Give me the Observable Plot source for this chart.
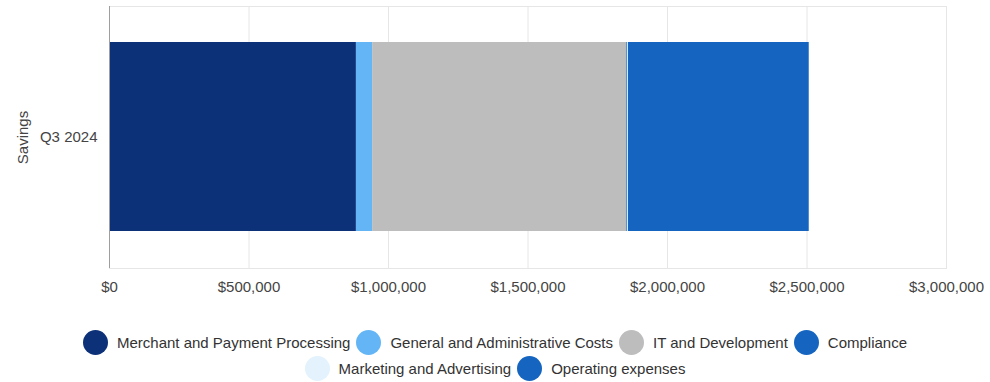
<!DOCTYPE html>
<html><head><meta charset="utf-8">
<script src="https://cdn.jsdelivr.net/npm/d3@7"></script>
<script src="https://cdn.jsdelivr.net/npm/@observablehq/plot@0.6"></script>
<style>
body{margin:0;background:#fff;font-family:"Liberation Sans",Arial,sans-serif;}
#chart svg{display:block;}
#legend{width:990px;font-size:15px;color:#333;margin-top:29px;}
.row{display:flex;justify-content:center;align-items:center;height:26px;}
.item{display:flex;align-items:center;margin:0 3px;}
.dot{width:25px;height:25px;border-radius:50%;margin-right:9px;}
</style></head>
<body><div id="chart"></div><div id="legend"></div>
<script>
const categories = ["Q3 2024"];
const series = ["Merchant and Payment Processing","General and Administrative Costs","IT and Development","Compliance","Marketing and Advertising","Operating expenses"];
const values = [885000, 58000, 910000, 3000, 4000, 648000];
const colors = ["#0d3178","#64b5f6","#bdbdbd","#1565c0","#e3f2fd","#1565c0"];
const xTicks = [0,500000,1000000,1500000,2000000,2500000,3000000];

const data = series.map((s,i)=>({cat:categories[0], series:s, value:values[i]}));

const chart = Plot.plot({
  width:990, height:300,
  marginLeft:109, marginRight:44, marginTop:6, marginBottom:32,
  style:{fontFamily:"Liberation Sans, Arial, sans-serif", fontSize:"15px", color:"#444"},
  x:{domain:[0,3000000], ticks:xTicks, tickFormat:d3.format("$,"), tickSize:0, tickPadding:13, label:null, grid:false},
  y:{domain:categories, padding:0, tickSize:0, tickPadding:12, label:"Savings", labelAnchor:"center", labelOffset:92},
  color:{domain:series, range:colors},
  marks:[
    Plot.gridX(xTicks,{stroke:"#e6e6e6", strokeOpacity:1}),
    Plot.frame({anchor:"top", stroke:"#e6e6e6"}),
    Plot.frame({anchor:"bottom", stroke:"#e6e6e6"}),
    Plot.barX(data, Plot.stackX({y:"cat", x:"value", fill:"series", order:null, insetTop:36, insetBottom:37})),
    Plot.ruleX([0],{stroke:"#9e9e9e"}),
  ]
});
document.getElementById("chart").appendChild(chart);

const leg = document.getElementById("legend");
const rows = [[0,1,2,3],[4,5]];
rows.forEach(r=>{
  const row = document.createElement("div"); row.className="row";
  r.forEach(i=>{
    const it=document.createElement("div"); it.className="item";
    const d=document.createElement("span"); d.className="dot"; d.style.background=colors[i];
    const t=document.createElement("span"); t.textContent=series[i];
    it.appendChild(d); it.appendChild(t); row.appendChild(it);
  });
  leg.appendChild(row);
});
</script></body></html>
